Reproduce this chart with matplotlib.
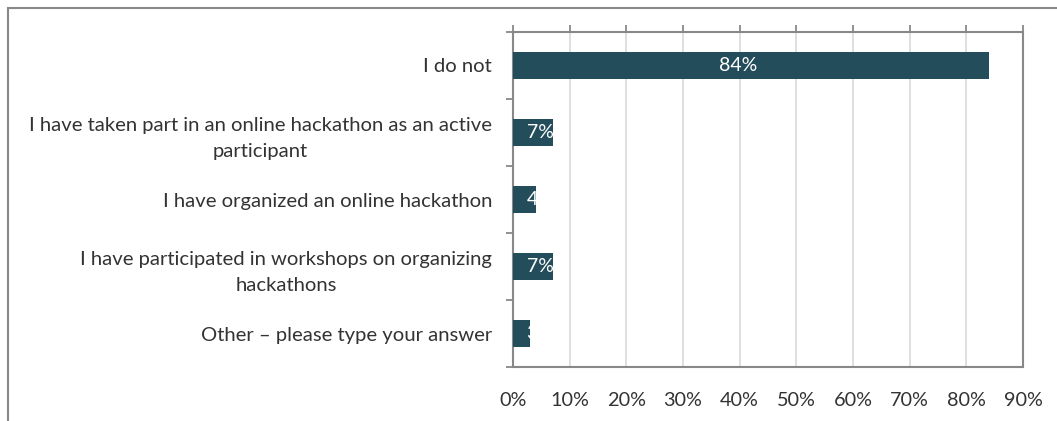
import matplotlib
matplotlib.use("Agg")
import matplotlib.pyplot as plt
from matplotlib.patches import Rectangle
from matplotlib.ticker import FixedLocator

categories = [
    "I do not",
    "I have taken part in an online hackathon as an active\nparticipant",
    "I have organized an online hackathon",
    "I have participated in workshops on organizing\nhackathons",
    "Other \u2013 please type your answer",
]
values = [84, 7, 4, 7, 3]
xticks = [0, 10, 20, 30, 40, 50, 60, 70, 80, 90]
xticklabels = [f"{t}%" for t in xticks]

BAR = "#234D5B"
AX = "#888888"
GRID = "#D9D9D9"
TXT = "#333333"
FONT = ["Lato", "DejaVu Sans"]

plt.rcParams["font.family"] = FONT

fig = plt.figure(figsize=(10.57, 4.21), dpi=100)
fig.patches.append(Rectangle((8 / 1057, -0.1), 1.2, (421 - 8) / 421 + 0.1,
                             transform=fig.transFigure, fill=False,
                             edgecolor=AX, linewidth=1.5, zorder=0))

ax = fig.add_axes([513 / 1057, (421 - 367) / 421, (1023 - 513) / 1057, (367 - 32) / 421])
n = len(categories)
ypos = list(range(n))
bars = ax.barh(ypos, values, height=0.4, color=BAR, zorder=3)
ax.set_xlim(0, 90)
ax.set_ylim(n - 0.5, -0.5)

ax.set_xticks(xticks)
ax.set_xticklabels(xticklabels, fontsize=14.3, color=TXT)
ax.tick_params(axis="x", bottom=False, top=True, direction="out", length=5,
               color=AX, width=1.3, pad=13, labelbottom=True, labeltop=False)
ax.xaxis.grid(True, color=GRID, linewidth=1.2, zorder=0)

ax.set_yticks(ypos)
ax.set_yticklabels(categories, fontsize=14.6, color=TXT, multialignment="center",
                   linespacing=1.62)
ax.tick_params(axis="y", which="major", length=0, pad=15)
ax.yaxis.set_minor_locator(FixedLocator([i - 0.5 for i in range(n + 1)]))
ax.tick_params(axis="y", which="minor", length=5, color=AX, width=1.3, direction="out")

for s in ax.spines.values():
    s.set_color(AX)
    s.set_linewidth(1.5)

for b, v in zip(bars, values):
    y = b.get_y() + b.get_height() / 2
    if v >= 10:
        t = ax.text(v / 2 - 2.2, y, f"{v}%", ha="center", va="center",
                    color="white", fontsize=14, zorder=4)
    else:
        t = ax.text(2.4, y, f"{v}%", ha="left", va="center",
                    color="white", fontsize=14, zorder=4)
    t.set_clip_path(b)

fig.savefig("out.png", dpi=100)
